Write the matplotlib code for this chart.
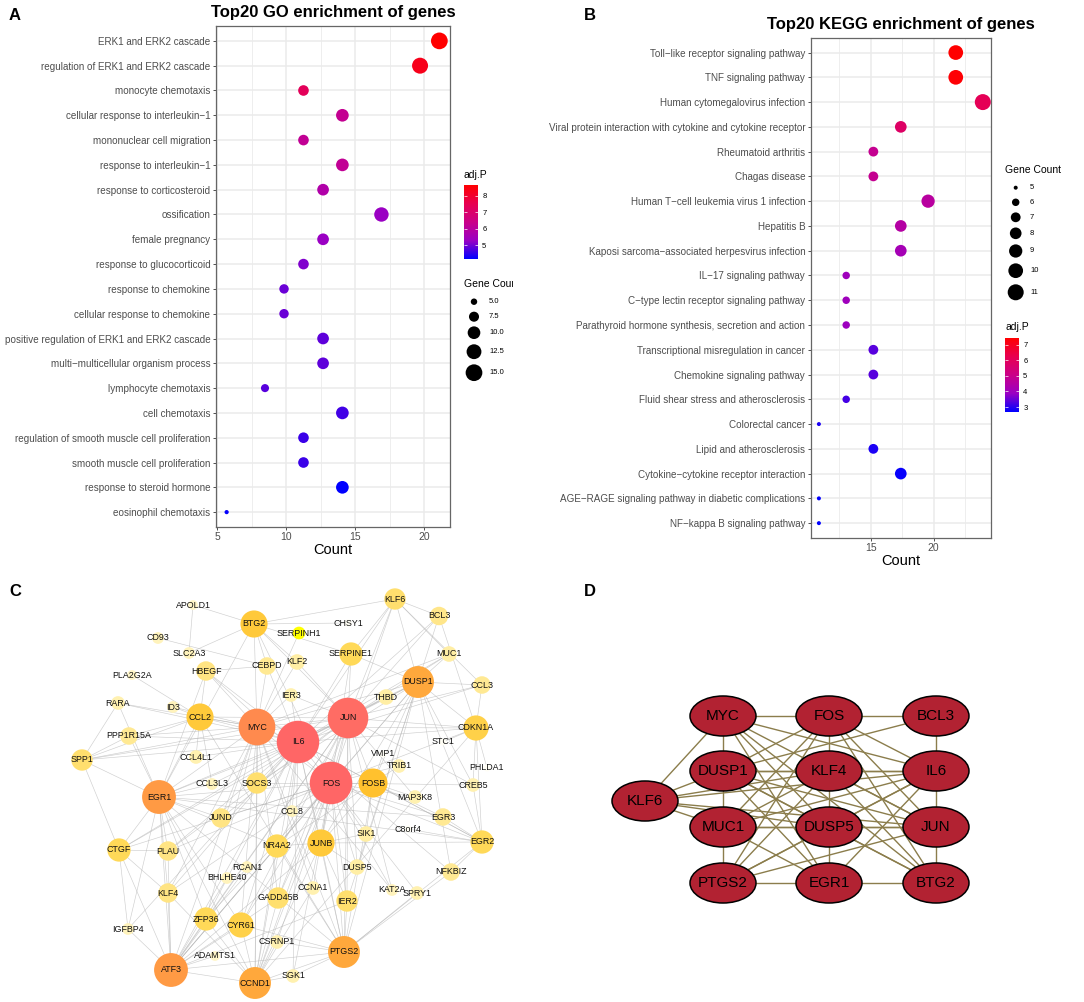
import matplotlib
matplotlib.use("Agg")
import matplotlib.pyplot as plt
import numpy as np
from matplotlib.colors import LinearSegmentedColormap
from matplotlib.collections import LineCollection
from matplotlib.patches import Ellipse
from matplotlib.ticker import MultipleLocator

plt.rcParams['font.family'] = ['Liberation Sans', 'DejaVu Sans']

W, H = 1084, 1002

# ---------------- panel A: GO ----------------
go_terms = ["ERK1 and ERK2 cascade", "regulation of ERK1 and ERK2 cascade",
            "monocyte chemotaxis", "cellular response to interleukin\u22121",
            "mononuclear cell migration", "response to interleukin\u22121",
            "response to corticosteroid", "ossification", "female pregnancy",
            "response to glucocorticoid", "response to chemokine",
            "cellular response to chemokine",
            "positive regulation of ERK1 and ERK2 cascade",
            "multi\u2212multicellular organism process", "lymphocyte chemotaxis",
            "cell chemotaxis", "regulation of smooth muscle cell proliferation",
            "smooth muscle cell proliferation", "response to steroid hormone",
            "eosinophil chemotaxis"]
go_count = [21.1, 19.7, 11.25, 14.07, 11.25, 14.07, 12.67, 16.9, 12.67, 11.25,
            9.84, 9.84, 12.67, 12.67, 8.46, 14.07, 11.25, 11.25, 14.07, 5.68]
go_genes = [15, 14, 8, 10, 8, 10, 9, 12, 9, 8, 7, 7, 9, 9, 6, 10, 8, 8, 10, 4]
go_adjp = [8.67, 8.3, 7.35, 6.25, 6.2, 6.2, 5.8, 5.3, 5.3, 5.1, 4.95, 4.95,
           4.85, 4.85, 4.8, 4.65, 4.6, 4.6, 4.16, 4.2]

# ---------------- panel B: KEGG ----------------
kegg_terms = ["Toll\u2212like receptor signaling pathway", "TNF signaling pathway",
              "Human cytomegalovirus infection",
              "Viral protein interaction with cytokine and cytokine receptor",
              "Rheumatoid arthritis", "Chagas disease",
              "Human T\u2212cell leukemia virus 1 infection", "Hepatitis B",
              "Kaposi sarcoma\u2212associated herpesvirus infection",
              "IL\u221217 signaling pathway", "C\u2212type lectin receptor signaling pathway",
              "Parathyroid hormone synthesis, secretion and action",
              "Transcriptional misregulation in cancer", "Chemokine signaling pathway",
              "Fluid shear stress and atherosclerosis", "Colorectal cancer",
              "Lipid and atherosclerosis", "Cytokine\u2212cytokine receptor interaction",
              "AGE\u2212RAGE signaling pathway in diabetic complications",
              "NF\u2212kappa B signaling pathway"]
kegg_count = [21.75, 21.75, 23.9, 17.38, 15.2, 15.2, 19.55, 17.38, 17.38, 13.04,
              13.04, 13.04, 15.2, 15.2, 13.04, 10.87, 15.2, 17.38, 10.87, 10.87]
kegg_genes = [10, 10, 11, 8, 7, 7, 9, 8, 8, 6, 6, 6, 7, 7, 6, 5, 7, 8, 5, 5]
kegg_adjp = [7.43, 7.35, 6.1, 5.8, 4.9, 4.9, 4.6, 4.5, 4.15, 4.0, 4.0, 3.95,
             3.35, 3.35, 3.2, 2.9, 2.9, 2.75, 2.7, 2.68]

# ---------------- panel C: PPI network ----------------
c_nodes = ["APOLD1", "KLF6", "BTG2", "SERPINH1", "CHSY1", "BCL3", "CD93", "SLC2A3",
           "SERPINE1", "MUC1", "HBEGF", "CEBPD", "KLF2", "PLA2G2A", "DUSP1", "CCL3",
           "IER3", "RARA", "ID3", "THBD", "CCL2", "JUN", "MYC", "CDKN1A", "IL6",
           "PPP1R15A", "STC1", "SPP1", "CCL4L1", "VMP1", "TRIB1", "PHLDA1", "FOS",
           "FOSB", "CREB5", "CCL3L3", "SOCS3", "EGR1", "MAP3K8", "JUND", "CCL8",
           "EGR3", "CTGF", "PLAU", "NR4A2", "JUNB", "SIK1", "C8orf4", "EGR2",
           "RCAN1", "BHLHE40", "DUSP5", "NFKBIZ", "KLF4", "GADD45B", "CCNA1", "IER2",
           "KAT2A", "SPRY1", "IGFBP4", "ZFP36", "CYR61", "CSRNP1", "PTGS2",
           "ADAMTS1", "ATF3", "SGK1", "CCND1"]
c_x = [193, 395, 254, 299, 348, 439, 158, 189, 351, 449, 206, 267, 297, 132, 418,
       482, 291, 118, 173, 386, 200, 348, 257, 476, 298, 129, 443, 82, 196, 383,
       399, 487, 331, 373, 473, 212, 257, 159, 415, 221, 292, 443, 119, 168, 277,
       321, 366, 408, 482, 247, 227, 357, 451, 168, 278, 313, 347, 392, 417, 128,
       206, 241, 277, 344, 215, 171, 293, 255]
c_y = [605, 599, 624, 633, 623, 616, 638, 653, 654, 654, 671, 666, 662, 675, 682,
       685, 695, 703, 707, 697, 717, 718, 727, 728, 742, 736, 742, 760, 757, 754,
       766, 768, 783, 783, 785, 784, 783, 797, 797, 818, 811, 817, 850, 851, 846,
       843, 834, 829, 842, 867, 878, 867, 872, 893, 898, 888, 901, 890, 893, 929,
       919, 925, 942, 952, 956, 970, 976, 983]
c_degree = [4, 16, 22, 7, 1, 13, 6, 6, 18, 10, 14, 12, 10, 4, 27, 12, 8, 8, 6, 10,
            22, 36, 32, 20, 38, 12, 1, 16, 8, 1, 8, 1, 38, 24, 8, 6, 16, 29, 8, 14,
            6, 12, 18, 14, 18, 22, 10, 1, 18, 6, 6, 10, 12, 14, 16, 8, 16, 6, 8, 6,
            18, 20, 8, 27, 4, 29, 8, 27]
c_highlight = ["SERPINH1"]
c_links = {
    "IL6": "FOS JUN MYC EGR1 ATF3 CCL2 SOCS3 PTGS2 CCND1 CDKN1A SPP1 CTGF HBEGF "
           "SERPINE1 CCL3 CCL8 CCL4L1 CCL3L3 KLF4 KLF6 BCL3 MUC1 PLAU CEBPD IER3 JUNB "
           "FOSB DUSP1 NFKBIZ EGR2 ZFP36 CYR61 GADD45B THBD PPP1R15A RARA SGK1 IGFBP4",
    "FOS": "JUN MYC EGR1 ATF3 FOSB JUNB JUND EGR2 EGR3 NR4A2 DUSP1 IER2 CCND1 PTGS2 "
           "CDKN1A BTG2 KLF4 KLF6 SOCS3 ZFP36 CYR61 GADD45B SERPINE1 CTGF CREB5 MAP3K8 "
           "SIK1 DUSP5 TRIB1 SPRY1 KAT2A CCNA1 CSRNP1 SGK1 PLAU HBEGF",
    "JUN": "MYC EGR1 ATF3 FOSB JUNB JUND CCND1 PTGS2 CDKN1A BTG2 DUSP1 KLF6 KLF2 "
           "SERPINE1 CCL2 THBD BCL3 MUC1 CCL3 CREB5 IER3 NR4A2 IER2 GADD45B ZFP36 "
           "CYR61 SPP1 PLAU CTGF MAP3K8 DUSP5 KAT2A",
    "MYC": "EGR1 ATF3 CCND1 CDKN1A BTG2 CCL2 HBEGF CEBPD KLF2 KLF4 ID3 RARA PPP1R15A "
           "SPP1 SOCS3 JUND GADD45B CYR61 ZFP36 PTGS2 IER3 SERPINH1 CCNA1 KAT2A DUSP1 MUC1",
    "EGR1": "ATF3 CTGF SPP1 PLAU KLF4 JUND CYR61 ZFP36 CCND1 PTGS2 NR4A2 EGR2 EGR3 "
            "BTG2 CCL2 RARA PPP1R15A IGFBP4 CCL3L3 HBEGF",
    "ATF3": "CCND1 PTGS2 KLF4 ZFP36 CYR61 CTGF PLAU IGFBP4 ADAMTS1 JUNB IER2 GADD45B "
            "DUSP1 BHLHE40 RCAN1 NR4A2",
    "DUSP1": "CDKN1A CCL3 MUC1 BCL3 KLF6 THBD SERPINE1 EGR2 NFKBIZ PTGS2 JUNB IER2 "
             "FOSB CREB5 SOCS3 DUSP5",
    "CCND1": "PTGS2 CYR61 CDKN1A SGK1 CSRNP1 GADD45B KLF4 ZFP36 NR4A2 JUNB CCNA1 SOCS3",
    "PTGS2": "IER2 JUNB NR4A2 CYR61 SGK1 CSRNP1 CCL2 SPRY1 NFKBIZ EGR2 FOSB",
    "FOSB": "JUNB EGR2 EGR3 NR4A2 MAP3K8 TRIB1 VMP1 SIK1",
    "JUNB": "NR4A2 IER2 EGR2 SIK1 DUSP5",
    "CDKN1A": "CCL3 EGR2 BCL3 STC1 PHLDA1 CREB5",
    "BTG2": "KLF6 SERPINE1 CEBPD APOLD1 KLF2 CHSY1 SLC2A3",
    "CCL2": "HBEGF CCL4L1 ID3 PPP1R15A SPP1 CCL3L3",
    "KLF6": "BCL3 SERPINE1 MUC1 CCL3",
    "EGR2": "NFKBIZ EGR3 CREB5 C8orf4",
    "SPP1": "CTGF PPP1R15A RARA",
    "CTGF": "IGFBP4 PLAU KLF4",
    "CEBPD": "CD93 HBEGF",
    "APOLD1": "SLC2A3",
    "PLA2G2A": "CCL2",
}

# ---------------- panel D: hub genes ----------------
d_nodes = ["MYC", "FOS", "BCL3", "DUSP1", "KLF4", "IL6", "KLF6", "MUC1", "DUSP5",
           "JUN", "PTGS2", "EGR1", "BTG2"]
d_x = [723, 829, 936, 723, 829, 936, 645, 723, 829, 936, 723, 829, 936]
d_y = [716, 716, 716, 771, 771, 771, 801, 827, 827, 827, 883, 883, 883]
d_edges = [("MYC", "FOS"), ("FOS", "BCL3"), ("MYC", "DUSP1"), ("DUSP1", "MUC1"),
           ("MUC1", "PTGS2"), ("FOS", "KLF4"), ("KLF4", "DUSP5"), ("DUSP5", "EGR1"),
           ("BCL3", "IL6"), ("IL6", "JUN"), ("JUN", "BTG2"), ("PTGS2", "EGR1"),
           ("EGR1", "BTG2"), ("KLF6", "MYC"), ("KLF6", "DUSP1"), ("KLF6", "KLF4"),
           ("KLF6", "IL6"), ("KLF6", "MUC1"), ("KLF6", "DUSP5"), ("KLF6", "JUN"),
           ("DUSP1", "KLF4"), ("KLF4", "IL6"), ("DUSP1", "IL6"), ("MUC1", "DUSP5"),
           ("DUSP5", "JUN"), ("MYC", "IL6"), ("MYC", "JUN"), ("MYC", "DUSP5"),
           ("MYC", "EGR1"), ("MYC", "BTG2"), ("FOS", "DUSP1"), ("FOS", "MUC1"),
           ("FOS", "PTGS2"), ("FOS", "JUN"), ("FOS", "IL6"), ("FOS", "BTG2"),
           ("BCL3", "DUSP1"), ("IL6", "PTGS2"), ("IL6", "DUSP5"), ("IL6", "MUC1"),
           ("IL6", "EGR1"), ("JUN", "PTGS2"), ("JUN", "KLF4"), ("JUN", "DUSP1"),
           ("KLF4", "PTGS2"), ("KLF4", "BTG2"), ("KLF4", "MUC1"), ("DUSP1", "EGR1"),
           ("DUSP1", "BTG2"), ("DUSP1", "DUSP5"), ("DUSP5", "PTGS2"),
           ("DUSP5", "BTG2"), ("MUC1", "EGR1"), ("MUC1", "JUN")]

# ------------------------------------------------------------
gg_cmap = LinearSegmentedColormap.from_list(
    "gg", ["#0000FF", "#9A00C3", "#CA0088", "#E80050", "#FF0000"])

fig = plt.figure(figsize=(W / 100, H / 100), dpi=100)


def px_axes(x0, y0, x1, y1):
    return fig.add_axes([x0 / W, 1 - y1 / H, (x1 - x0) / W, (y1 - y0) / H])


def ftext(x, y, s, **kw):
    fig.text(x / W, 1 - y / H, s, **kw)


def go_size(n):
    return 0.5184 * (23.8 * np.asarray(n, float) - 77.6)


def kegg_size(n):
    return 0.5184 * (40 * np.asarray(n, float) - 184)


def dotplot(ax, terms, x, genes, adjp, size_fn, ticks):
    n = len(terms)
    y = np.arange(n, 0, -1)
    ax.set_axisbelow(True)
    sc = ax.scatter(x, y, s=size_fn(genes), c=adjp, cmap=gg_cmap,
                    vmin=min(adjp), vmax=max(adjp), linewidths=0, zorder=3)
    xr = max(x) - min(x)
    ax.set_xlim(min(x) - 0.05 * xr, max(x) + 0.05 * xr)
    ax.set_ylim(0.4, n + 0.6)
    ax.set_yticks(y)
    ax.set_yticklabels(terms)
    ax.set_xticks(ticks)
    ax.xaxis.set_minor_locator(MultipleLocator(2.5))
    ax.grid(True, which='major', color='#EBEBEB', lw=1.1)
    ax.grid(True, which='minor', axis='x', color='#EBEBEB', lw=0.6)
    ax.tick_params(which='minor', length=0)
    ax.tick_params(which='major', length=2.5, width=0.6, color='#333333',
                   labelsize=7.1, labelcolor='#4D4D4D', pad=1.5)
    ax.tick_params(axis='x', labelsize=7.5, pad=1)
    for sp in ax.spines.values():
        sp.set_color('#666666')
        sp.set_linewidth(0.9)
    ax.set_xlabel("Count", fontsize=10.5, labelpad=1)
    return sc


def colorbar(sc, box, ticks):
    cax = px_axes(*box)
    cb = fig.colorbar(sc, cax=cax, ticks=ticks)
    cb.outline.set_visible(False)
    cax.tick_params(left=True, right=True, labelleft=False, labelright=True,
                    direction='in', length=2.5, width=0.5, color='white',
                    labelsize=5.5, pad=3)


# ---- A
axA = px_axes(216, 26, 450, 527)
scA = dotplot(axA, go_terms, go_count, go_genes, go_adjp, go_size, [5, 10, 15, 20])
ftext(333, 13, "Top20 GO enrichment of genes", fontsize=12, fontweight='bold',
      ha='center', va='center')
ftext(464, 175, "adj.P", fontsize=7.5, va='center')
colorbar(scA, (464, 185, 478, 259), [5, 6, 7, 8])

# legend box is cut at the panel edge, as in the source figure
legA = px_axes(455, 270, 513, 390)
legA.set_xlim(455, 513)
legA.set_ylim(390, 270)
legA.axis('off')
legA.text(464, 284, "Gene Count", fontsize=7.5, va='center', clip_on=True)
go_leg = [5.0, 7.5, 10.0, 12.5, 15.0]
go_leg_y = [301.7, 316.7, 332.7, 351.7, 372.7]
legA.scatter([474] * len(go_leg), go_leg_y, s=go_size(go_leg), c='black', linewidths=0)
for v, yy in zip(go_leg, go_leg_y):
    legA.text(489, yy, "%.1f" % v, fontsize=5.5, va='center')

# ---- B
axB = px_axes(810.7, 37.7, 991, 538)
scB = dotplot(axB, kegg_terms, kegg_count, kegg_genes, kegg_adjp, kegg_size, [15, 20])
ftext(901, 24, "Top20 KEGG enrichment of genes", fontsize=12, fontweight='bold',
      ha='center', va='center')
ftext(1005, 170, "Gene Count", fontsize=7.5, va='center')
legB = px_axes(995, 178, 1084, 305)
legB.set_xlim(995, 1084)
legB.set_ylim(305, 178)
legB.axis('off')
kegg_leg = [5, 6, 7, 8, 9, 10, 11]
kegg_leg_y = [187.7, 202.3, 217.3, 233.3, 251, 270.7, 292.3]
legB.scatter([1015.7] * len(kegg_leg), kegg_leg_y, s=kegg_size(kegg_leg), c='black',
             linewidths=0)
for v, yy in zip(kegg_leg, kegg_leg_y):
    legB.text(1030, yy, str(v), fontsize=5.5, va='center')
ftext(1005, 327, "adj.P", fontsize=7.5, va='center')
colorbar(scB, (1005, 338, 1019, 412), [3, 4, 5, 6, 7])

# ---- C
axC = px_axes(0, 575, 540, 1002)
axC.set_xlim(0, 540)
axC.set_ylim(1002, 575)
axC.axis('off')
pos = {n: (x, y) for n, x, y in zip(c_nodes, c_x, c_y)}
segs = []
for a, nbrs in c_links.items():
    for b in nbrs.split():
        segs.append([pos[a], pos[b]])
axC.add_collection(LineCollection(segs, colors='#B5B5B5', linewidths=0.45,
                                  alpha=0.65, zorder=1))
deg_cmap = LinearSegmentedColormap.from_list(
    "deg", [(0.0, "#FFFEF5"), (3 / 37, "#FFF6C8"), (9 / 37, "#FFEEA4"),
            (13 / 37, "#FFE482"), (17 / 37, "#FFD958"), (21 / 37, "#FFC93A"),
            (23 / 37, "#FFC22E"), (26 / 37, "#FFA83C"), (28 / 37, "#FF9A44"),
            (31 / 37, "#FF8A4E"), (35 / 37, "#FF6C64"), (1.0, "#FF6666")])
deg = np.array(c_degree, float)
radius = 3 + 0.48 * deg
cols = deg_cmap((deg - 1) / 37)
for i, n in enumerate(c_nodes):
    if n in c_highlight:
        cols[i] = matplotlib.colors.to_rgba("#FFFF00")
axC.scatter(c_x, c_y, s=(1.44 * radius) ** 2, c=cols, linewidths=0, zorder=2)
for n, x, y in zip(c_nodes, c_x, c_y):
    axC.text(x, y, n, fontsize=6.4, ha='center', va='center', color='#111111',
             zorder=3)

# ---- D
axD = px_axes(580, 575, 1084, 1002)
axD.set_xlim(580, 1084)
axD.set_ylim(1002, 575)
axD.axis('off')
dpos = {n: (x, y) for n, x, y in zip(d_nodes, d_x, d_y)}
axD.add_collection(LineCollection([[dpos[a], dpos[b]] for a, b in d_edges],
                                  colors='#8B7D4C', linewidths=1.0, zorder=1))
for n, x, y in zip(d_nodes, d_x, d_y):
    axD.add_patch(Ellipse((x, y), 66, 40, facecolor='#B22232', edgecolor='black',
                          lw=1.1, zorder=2))
    axD.text(x, y, n, fontsize=11, ha='center', va='center', color='black', zorder=3)

# panel letters
for lab, x, y in [("A", 15, 16), ("B", 590, 16), ("C", 15, 591), ("D", 590, 591)]:
    ftext(x, y, lab, fontsize=12, fontweight='bold', ha='center', va='center')

fig.savefig("out.png", dpi=100)
